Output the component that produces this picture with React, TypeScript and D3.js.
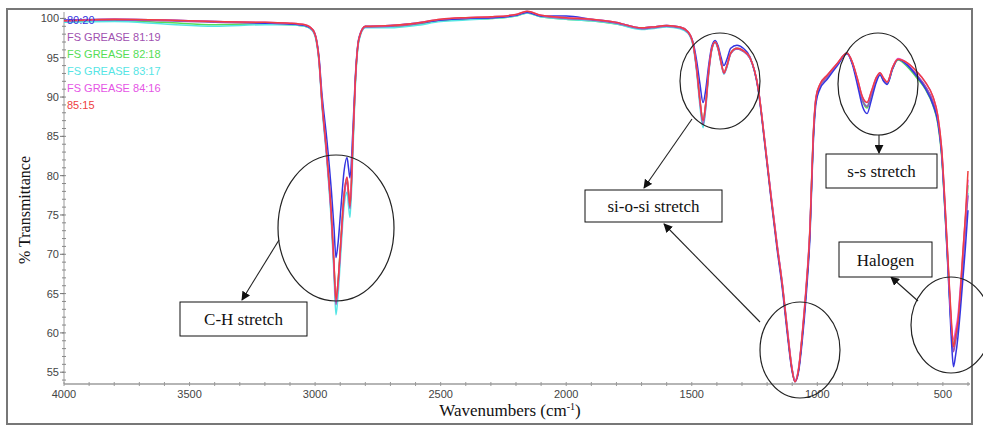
import React from "react";
import * as d3 from "d3";

const wavenumbers = [4000, 3800, 3600, 3400, 3200, 3100, 3040, 3010, 2995, 2985, 2973, 2953, 2935, 2925, 2917, 2910, 2897, 2885, 2873, 2867, 2861, 2850, 2840, 2825, 2800, 2700, 2600, 2500, 2400, 2300, 2200, 2156, 2100, 2000, 1900, 1800, 1700, 1660, 1600, 1547, 1515, 1495, 1480, 1468, 1455, 1445, 1432, 1420, 1407, 1395, 1383, 1372, 1360, 1345, 1320, 1295, 1268, 1236, 1210, 1185, 1160, 1140, 1120, 1101, 1089, 1075, 1060, 1045, 1029, 1017, 1005, 990, 960, 920, 882, 860, 840, 820, 802, 785, 765, 750, 736, 722, 700, 679, 640, 603, 570, 539, 520, 505, 490, 475, 465, 458, 450, 440, 430, 420, 410, 400];

const s8020 = [99.8,99.9,99.8,99.6,99.4,99.3,99.1,98.6,97.4,95.3, 90.5,84.5,78.0,73.5,69.6,71.0,76.0,80.5,82.3,81.0, 79.7,85.5,92.5,97.6,99.0,99.1,99.4,99.8,100.0,100.1, 100.4,100.8,100.3,100.3,99.9,99.5,98.8,98.9,99.1,98.9, 98.3,97.0,94.5,91.8,89.3,90.8,94.2,96.5,97.2,96.5, 95.0,94.0,94.8,96.2,96.6,96.2,95.1,91.0,84.2,77.2, 70.6,65.8,60.0,55.2,53.8,55.0,59.0,64.5,72.5,83.5, 89.3,91.0,92.3,94.0,95.5,94.1,91.5,88.8,87.9,89.6, 91.9,92.8,92.0,91.6,93.6,94.8,94.0,92.6,91.1,89.0, 86.8,82.8,74.5,65.0,58.5,55.7,57.0,59.5,63.0,67.0, 71.0,75.6];
const s8119 = [99.7,99.8,99.7,99.5,99.4,99.3,99.1,98.5,97.2,94.8, 89.3,82.2,74.4,68.3,63.6,65.5,71.5,77.0,79.2,77.5, 75.8,83.5,91.8,97.4,98.9,99.0,99.3,99.8,100.0,100.1, 100.4,100.8,100.3,100.0,99.8,99.4,98.7,98.8,99.0,98.8, 98.2,96.7,93.3,89.5,86.5,88.6,93.3,96.1,97.0,96.1, 94.3,93.0,93.9,95.5,96.1,95.8,94.9,91.2,84.5,77.5, 71.0,66.2,60.4,55.4,53.8,55.2,59.6,65.2,73.2,84.2, 89.8,91.4,92.6,94.2,95.6,94.3,92.0,89.6,88.8,90.3, 92.3,93.0,92.2,91.8,93.7,94.8,94.1,92.8,91.4,89.4, 87.1,83.0,75.0,65.8,59.8,57.6,58.8,60.8,64.5,69.0, 73.5,77.5];
const s8218 = [99.6,99.7,99.5,99.2,99.3,99.2,99.0,98.5,97.2,94.9, 89.5,82.5,74.8,68.8,64.3,66.0,72.0,77.3,79.5,77.8, 76.0,83.8,91.8,97.4,98.9,98.9,99.2,99.7,99.9,100.0, 100.3,100.7,100.2,99.9,99.7,99.3,98.7,98.8,99.0,98.8, 98.2,96.7,93.4,89.7,87.2,89.0,93.5,96.2,97.0,96.2, 94.4,93.2,94.0,95.6,96.2,95.9,95.0,91.2,84.5,77.6, 71.1,66.3,60.5,55.5,53.9,55.3,59.6,65.3,73.3,84.3, 89.8,91.4,92.6,94.2,95.6,94.3,92.0,89.5,88.6,90.2, 92.2,92.9,92.1,91.7,93.6,94.7,93.8,92.4,91.0,88.9, 86.6,82.5,74.5,65.6,60.0,58.4,59.2,61.0,64.8,69.5, 74.5,78.8];
const s8317 = [99.5,99.6,99.3,99.0,99.2,99.2,99.0,98.4,97.0,94.6, 89.0,81.8,73.8,67.5,62.3,64.2,70.5,76.0,77.9,76.2, 74.7,82.5,91.2,97.2,98.8,98.8,99.1,99.6,99.8,100.0, 100.3,100.7,100.2,99.9,99.7,99.3,98.6,98.7,98.9,98.7, 98.1,96.5,93.0,89.0,86.1,88.3,93.1,96.0,96.9,96.0, 94.2,92.9,93.8,95.5,96.1,95.8,94.9,91.2,84.5,77.6, 71.1,66.4,60.6,55.5,53.9,55.3,59.7,65.4,73.4,84.4, 89.9,91.5,92.7,94.2,95.6,94.3,92.1,89.7,88.9,90.4, 92.3,93.0,92.2,91.8,93.7,94.8,94.0,92.7,91.3,89.3, 87.0,82.9,74.8,65.8,60.2,58.6,59.5,61.3,65.0,69.3, 73.8,77.8];
const s8416 = [99.7,99.9,99.8,99.6,99.5,99.4,99.2,98.6,97.3,95.0, 89.6,82.5,74.8,68.8,64.0,65.8,71.8,77.5,79.8,78.0, 76.3,84.0,92.0,97.5,99.0,99.1,99.4,99.9,100.1,100.2, 100.5,100.9,100.4,100.1,99.9,99.5,98.8,98.9,99.1,98.9, 98.3,96.8,93.5,89.8,87.0,89.0,93.5,96.2,97.0,96.2, 94.4,93.1,94.0,95.6,96.2,95.9,95.0,91.3,84.7,77.8, 71.3,66.5,60.8,55.6,53.9,55.5,60.0,65.8,73.8,84.8, 90.1,91.6,92.8,94.3,95.6,94.4,92.3,90.0,89.3,90.7, 92.5,93.1,92.4,91.9,93.8,94.9,94.3,93.2,91.9,90.0, 87.6,83.5,75.5,66.2,60.6,59.1,60.3,62.2,66.0,70.3, 74.8,79.5];
const s8515 = [99.7,99.9,99.8,99.6,99.5,99.4,99.2,98.6,97.3,95.0, 89.6,82.6,75.0,69.0,64.2,66.0,72.0,77.5,79.8,78.0, 76.2,84.0,92.0,97.5,99.0,99.1,99.4,99.9,100.1,100.2, 100.5,100.9,100.4,100.1,99.9,99.5,98.8,98.9,99.1,98.9, 98.3,96.8,93.5,89.8,87.0,89.0,93.5,96.2,97.0,96.2, 94.4,93.1,94.0,95.6,96.2,95.9,95.0,91.2,84.5,77.5, 71.0,66.3,60.5,55.4,53.8,55.3,59.8,65.5,73.5,84.5, 90.0,91.6,92.8,94.3,95.6,94.4,92.3,90.0,89.3,90.7, 92.5,93.1,92.4,91.9,93.8,94.8,94.3,93.2,91.9,90.0, 87.6,83.5,75.5,66.5,61.0,58.2,59.6,61.5,65.5,70.5, 75.0,80.6];

const seriesNames = ["80:20", "FS GREASE 81:19", "FS GREASE 82:18", "FS GREASE 83:17", "FS GREASE 84:16", "85:15"];
const seriesColors = ["#3535e0", "#a050b0", "#55dd55", "#55e5e5", "#e555e5", "#ee4040"];
const seriesValues = [s8020, s8119, s8218, s8317, s8416, s8515];
const drawOrder = [2, 3, 1, 0, 4, 5];

const xTicks = [4000, 3500, 3000, 2500, 2000, 1500, 1000, 500];
const yTicks = [55, 60, 65, 70, 75, 80, 85, 90, 95, 100];

const annotations = [
  { label: "C-H stretch", box: [180, 302, 127, 34] },
  { label: "si-o-si stretch", box: [585, 190, 137, 32] },
  { label: "s-s stretch", box: [826, 154, 111, 34] },
  { label: "Halogen", box: [839, 242, 93, 35] },
];
const ellipses = [
  [336, 228, 58, 73],
  [720, 81, 40, 48],
  [800, 350, 40, 48],
  [878, 84, 40, 51],
  [951, 325, 40, 48],
];
const arrows = [
  [279, 240, 242, 300],
  [692, 119, 644, 188],
  [760, 322, 664, 224],
  [879, 135, 879, 153],
  [918, 301, 891, 277],
];

export default function App() {
  const W = 983, H = 428;
  const x = d3.scaleLinear().domain([4000, 392]).range([64, 970]);
  const y = d3.scaleLinear().domain([53.5, 101.2]).range([384, 9]);
  const line = d3
    .line<number>()
    .x((_, i) => x(wavenumbers[i]))
    .y((d) => y(d))
    .curve(d3.curveMonotoneX);
  const yMinor = d3.range(54, 101, 1);
  const xMinor = d3.range(4000, 399, -100);
  const sans = "Liberation Sans, Arial, sans-serif";
  const serif = "Liberation Serif, Times New Roman, serif";
  return (
    <svg width={W} height={H} style={{ position: "absolute", left: 0, top: 0, background: "#fff" }}>
      <rect x={0} y={0} width={W} height={H} fill="#fff" />
      <rect x={7} y={9} width={965} height={415} fill="none" stroke="#777" strokeWidth={2} />
      {/* axes */}
      <line x1={64} x2={970} y1={384} y2={384} stroke="#b5b5b5" strokeWidth={2} />
      <line x1={64} x2={64} y1={12} y2={384} stroke="#9a9a9a" strokeWidth={1} />
      {yMinor.map((v) => (
        <line key={"ym" + v} x1={62} x2={66} y1={y(v)} y2={y(v)} stroke="#888" strokeWidth={1} />
      ))}
      {yTicks.map((v) => (
        <g key={"yt" + v}>
          <line x1={60} x2={64} y1={y(v)} y2={y(v)} stroke="#777" strokeWidth={1} />
          <text x={59} y={y(v) + 4} textAnchor="end" fontSize={11} fontFamily={sans} fill="#444">{v}</text>
        </g>
      ))}
      {xMinor.map((v) => (
        <line key={"xm" + v} x1={x(v)} x2={x(v)} y1={382} y2={386} stroke="#999" strokeWidth={1} />
      ))}
      {xTicks.map((v) => (
        <text key={"xt" + v} x={x(v)} y={398} textAnchor="middle" fontSize={11} fontFamily={sans} fill="#444">{v}</text>
      ))}
      {/* series */}
      {drawOrder.map((i) => (
        <path key={"s" + i} d={line(seriesValues[i]) || ""} fill="none" stroke={seriesColors[i]} strokeWidth={1.5} strokeLinejoin="round" />
      ))}
      {/* legend */}
      {seriesNames.map((n, i) => (
        <text key={"lg" + i} x={67} y={24 + i * 17} fontSize={11} fontFamily={sans} fill={seriesColors[i]}>{n}</text>
      ))}
      {/* axis titles */}
      <text transform="translate(30,210) rotate(-90)" textAnchor="middle" fontSize={16} fontFamily={serif} fill="#111">% Transmittance</text>
      <text x={510} y={416} textAnchor="middle" fontSize={17} fontFamily={serif} fill="#111">
        Wavenumbers (cm<tspan dy={-6} fontSize={10}>-1</tspan><tspan dy={6}>)</tspan>
      </text>
      {/* annotations */}
      <defs>
        <marker id="arr" viewBox="0 0 10 10" refX={9} refY={5} markerWidth={9} markerHeight={9} orient="auto" markerUnits="userSpaceOnUse">
          <path d="M0,0 L10,5 L0,10 z" fill="#111" />
        </marker>
      </defs>
      {ellipses.map((e, i) => (
        <ellipse key={"el" + i} cx={e[0]} cy={e[1]} rx={e[2]} ry={e[3]} fill="none" stroke="#222" strokeWidth={1.2} />
      ))}
      {arrows.map((a, i) => (
        <line key={"ar" + i} x1={a[0]} y1={a[1]} x2={a[2]} y2={a[3]} stroke="#222" strokeWidth={1.1} markerEnd="url(#arr)" />
      ))}
      {annotations.map((a, i) => (
        <g key={"an" + i}>
          <rect x={a.box[0]} y={a.box[1]} width={a.box[2]} height={a.box[3]} fill="#fff" stroke="#111" strokeWidth={1} />
          <text x={a.box[0] + a.box[2] / 2} y={a.box[1] + a.box[3] / 2 + 6} textAnchor="middle" fontSize={17} fontFamily={serif} fill="#111">{a.label}</text>
        </g>
      ))}
    </svg>
  );
}
